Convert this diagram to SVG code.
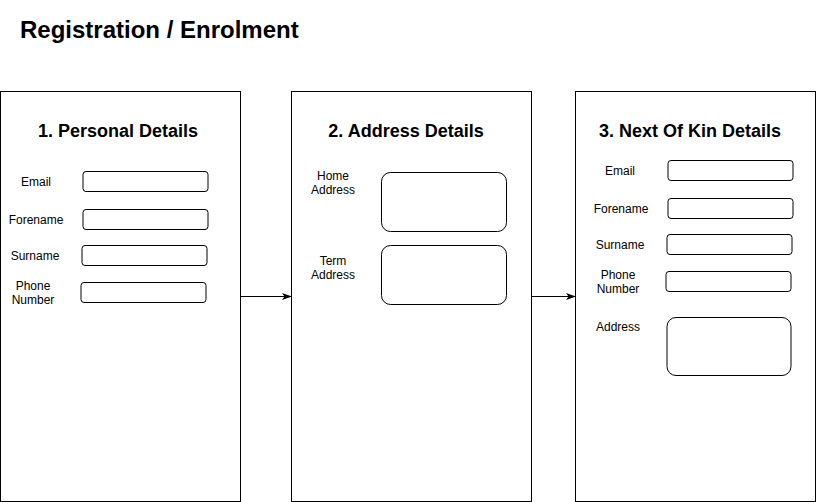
<svg xmlns="http://www.w3.org/2000/svg" width="816" height="502" viewBox="0 0 816 502">
  <defs>
    <style>
      .panel { fill: #ffffff; stroke: #000000; stroke-width: 1; }
      .field { fill: #ffffff; stroke: #000000; stroke-width: 1; }
      .title { font-family: "Liberation Sans", Arial, sans-serif; font-weight: bold; font-size: 18px; fill: #000; text-anchor: middle; }
      .label { font-family: "Liberation Sans", Arial, sans-serif; font-size: 12px; fill: #000; text-anchor: middle; }
      .heading { font-family: "Liberation Sans", Arial, sans-serif; font-weight: bold; font-size: 24px; fill: #000; }
      .edge { fill: none; stroke: #000; stroke-width: 1; }
    </style>
    <marker id="arrow" viewBox="0 0 10 10" refX="9" refY="5" markerWidth="10" markerHeight="10" markerUnits="userSpaceOnUse" orient="auto">
      <path d="M0,1.5 L10,5 L0,8.5 L2.5,5 Z" fill="#000"/>
    </marker>
  </defs>

  <rect width="816" height="502" fill="#ffffff"/>

  <text class="heading" x="20" y="38">Registration / Enrolment</text>

  <!-- Step 1 -->
  <g id="personal-details">
    <rect class="panel" x="0.5" y="91.5" width="240" height="410"/>
    <text class="title" x="118" y="137">1. Personal Details</text>
    <text class="label" x="36" y="186">Email</text>
    <rect class="field" x="83" y="171.5" width="125" height="20" rx="3"/>
    <text class="label" x="36" y="224">Forename</text>
    <rect class="field" x="83" y="209.5" width="125" height="20" rx="3"/>
    <text class="label" x="35" y="260">Surname</text>
    <rect class="field" x="82" y="245.5" width="125" height="20" rx="3"/>
    <text class="label" x="33" y="290">Phone</text>
    <text class="label" x="33" y="304">Number</text>
    <rect class="field" x="81" y="282.5" width="125" height="20" rx="3"/>
  </g>

  <!-- Step 2 -->
  <g id="address-details">
    <rect class="panel" x="291.5" y="91.5" width="240" height="410"/>
    <text class="title" x="406" y="137">2. Address Details</text>
    <text class="label" x="333" y="180">Home</text>
    <text class="label" x="333" y="194">Address</text>
    <rect class="field" x="381.5" y="172.5" width="125" height="59" rx="9"/>
    <text class="label" x="333" y="265">Term</text>
    <text class="label" x="333" y="279">Address</text>
    <rect class="field" x="381.5" y="245.5" width="125" height="59" rx="9"/>
  </g>

  <!-- Step 3 -->
  <g id="next-of-kin-details">
    <rect class="panel" x="575.5" y="91.5" width="240" height="410"/>
    <text class="title" x="690" y="137">3. Next Of Kin Details</text>
    <text class="label" x="620" y="175">Email</text>
    <rect class="field" x="668" y="160.5" width="125" height="20" rx="3"/>
    <text class="label" x="621" y="213">Forename</text>
    <rect class="field" x="668" y="198.5" width="125" height="20" rx="3"/>
    <text class="label" x="620" y="249">Surname</text>
    <rect class="field" x="667" y="234.5" width="125" height="20" rx="3"/>
    <text class="label" x="618" y="279">Phone</text>
    <text class="label" x="618" y="293">Number</text>
    <rect class="field" x="666" y="271.5" width="125" height="20" rx="3"/>
    <text class="label" x="618" y="331">Address</text>
    <rect class="field" x="667" y="317.5" width="124" height="58" rx="9"/>
  </g>

  <!-- Connectors -->
  <g id="connectors">
    <line class="edge" x1="240.5" y1="296.5" x2="291" y2="296.5" marker-end="url(#arrow)"/>
    <line class="edge" x1="531.5" y1="296.5" x2="575" y2="296.5" marker-end="url(#arrow)"/>
  </g>
</svg>
